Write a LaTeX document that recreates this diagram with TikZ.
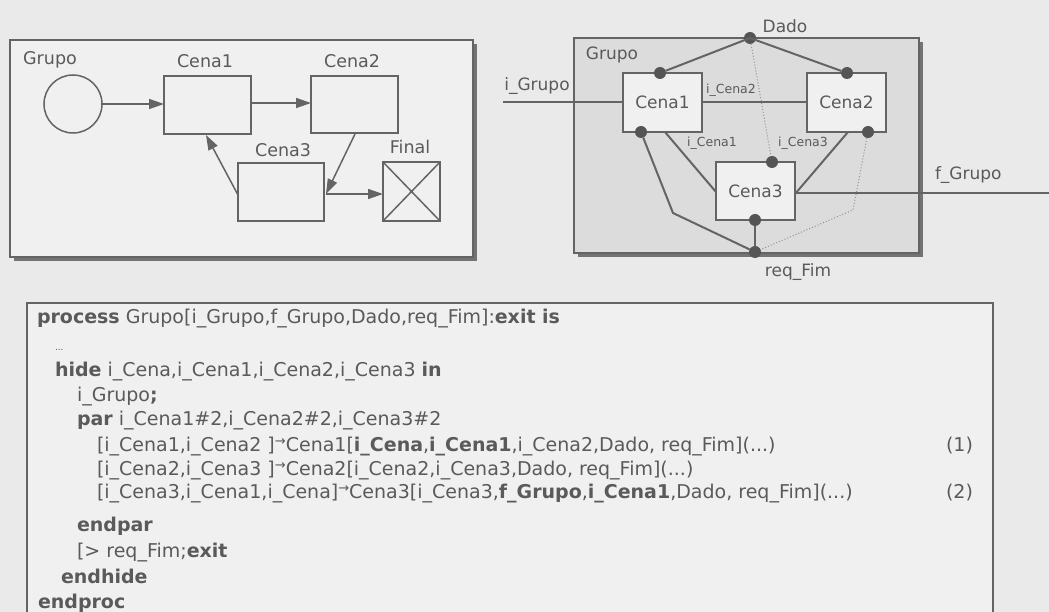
\documentclass[tikz,border=0pt]{standalone}
\usepackage{fontspec}
\setmainfont{DejaVu Sans}
\usetikzlibrary{arrows.meta}
\definecolor{pagebg}{RGB}{234,234,234}
\definecolor{boxbg}{RGB}{240,240,240}
\definecolor{grpbg}{RGB}{220,220,220}
\definecolor{ln}{RGB}{100,100,100}
\definecolor{txt}{RGB}{90,90,90}
\definecolor{shd}{RGB}{115,115,115}
\begin{document}
\begin{tikzpicture}[x=1pt,y=-1pt,
  every node/.style={text=txt,inner sep=0pt,outer sep=0pt},
  lbl/.style={font=\fontsize{17.5}{20}\selectfont},
  rlbl/.style={font=\fontsize{17}{20}\selectfont},
  slbl/.style={font=\fontsize{12.5}{14}\selectfont},
  code/.style={anchor=base west,font=\fontsize{19}{22}\selectfont},
  plain/.style={draw=ln,line width=1.5pt},
  scene/.style={draw=ln,line width=1.5pt,fill=boxbg},
  arr/.style={draw=ln,line width=1.5pt,-{Triangle[length=15pt,width=10pt]}},
  conn/.style={draw=ln,line width=2pt},
  dotl/.style={draw=ln!70,line width=1pt,dotted},
  gate/.style={circle,fill=ln!85!black,minimum size=12pt}
]
\useasboundingbox (0,0) rectangle (1049,612);
\fill[pagebg] (0,0) rectangle (1049,612);

% ---------- left diagram ----------
\fill[shd] (14,44) rectangle (477,261);
\draw[plain,fill=boxbg] (10,40) rectangle (473,257);
\node[lbl] (lg) at (50,60) {Grupo};
\node[circle,draw=ln,line width=1.5pt,minimum size=58pt] (st) at (73,104) {};
\node[scene,minimum width=87pt,minimum height=58pt] (c1) at (207.5,105) {};
\node[scene,minimum width=87pt,minimum height=57pt] (c2) at (354.5,104.5) {};
\node[scene,minimum width=86pt,minimum height=58pt] (c3) at (281,192) {};
\node[draw=ln,line width=1.5pt,fill=boxbg,minimum width=57pt,minimum height=59pt] (fi) at (411.5,191.5) {};
\draw[ln,line width=1.5pt] (fi.north west) -- (fi.south east) (fi.north east) -- (fi.south west);
\node[lbl] at (205,61) {Cena1};
\node[lbl] at (352,61) {Cena2};
\node[lbl] at (283,150) {Cena3};
\node[lbl] at (410,147) {Final};
\draw[arr] (st.east) -- (c1.west |- st.east);
\draw[arr] (c1.east |- 0,103) -- (c2.west |- 0,103);
\coordinate (c2b) at (355,134);
\coordinate (c3r) at (326,194);
\draw[arr] (c2b) -- (c3r);
\draw[arr] (c3r) -- (fi.west |- c3r);
\coordinate (c3l) at (238,195);
\coordinate (c1b) at (206,135);
\draw[arr] (c3l) -- (c1b);

% ---------- right diagram ----------
\fill[shd] (578,42) rectangle (923,257);
\draw[ln,line width=1.5pt,fill=grpbg] (574,38) rectangle (919,253);
\node[rlbl] at (612,55) {Grupo};
\node[scene,minimum width=79pt,minimum height=59pt] (r1) at (662.5,102.5) {};
\node[scene,minimum width=79pt,minimum height=59pt] (r2) at (846.5,102.5) {};
\node[scene,minimum width=79pt,minimum height=58pt] (r3) at (755.5,191) {};
\node[rlbl] at (r1) {Cena1};
\node[rlbl] at (r2) {Cena2};
\node[rlbl] at (r3) {Cena3};

\coordinate (ig) at (503,102);
\draw[conn,line width=1.5pt] (ig) -- (r1.west |- ig);
\node[rlbl] at (537,86) {i\_Grupo};
\draw[conn,line width=1.5pt] (r1.east |- ig) -- (r2.west |- ig);
\node[slbl] at (731,90) {i\_Cena2};
\coordinate (fg) at (1049,193);
\draw[conn,line width=1.5pt] (r3.east |- fg) -- (fg);
\node[rlbl,anchor=west] at (935,175) {f\_Grupo};

\node[gate] (dado) at (750,38) {};
\node[gate] (r1t) at (660,73) {};
\node[gate] (r2t) at (847,73) {};
\node[gate] (r1b) at (641,132) {};
\node[gate] (r2b) at (868,132) {};
\node[gate] (r3t) at (772,162) {};
\node[gate] (r3b) at (755,220) {};
\node[gate] (fim) at (755,252) {};
\node[rlbl] at (785,26) {Dado};
\node[rlbl] at (798,272) {req\_Fim};

\draw[conn] (r1t) -- (dado.center) -- (r2t);
\draw[dotl] (dado) -- (r3t);
\draw[conn] (665,132) -- (r3.west |- 0,192);
\node[slbl] at (712,143) {i\_Cena1};
\draw[conn] (848,132) -- (r3.east |- 0,194);
\node[slbl] at (803,143) {i\_Cena3};
\coordinate (bl) at (673,213);
\coordinate (br) at (853,210);
\draw[conn] (r1b) -- (bl) -- (fim);
\draw[dotl] (r2b) -- (br) -- (fim);
\draw[conn] (r3b) -- (fim);

% ---------- code box ----------
\draw[ln,line width=1.2pt,fill=boxbg] (27,303) rectangle (993,640);
\newcommand{\sarr}{\raisebox{0.5ex}{\fontsize{13}{14}\selectfont →}}
\node[code] at (37,323) {\textbf{process} Grupo[i\_Grupo,f\_Grupo,Dado,req\_Fim]:\textbf{exit is}};
\node[code,font=\fontsize{9}{10}\selectfont] at (55,350) {...};
\node[code] at (55,376) {\textbf{hide} i\_Cena,i\_Cena1,i\_Cena2,i\_Cena3 \textbf{in}};
\node[code] at (77,401) {i\_Grupo\textbf{;}};
\node[code] at (77,425) {\textbf{par} i\_Cena1\#2,i\_Cena2\#2,i\_Cena3\#2};
\node[code] at (97,451) {[i\_Cena1,i\_Cena2 ]\sarr Cena1[\textbf{i\_Cena},\textbf{i\_Cena1},i\_Cena2,Dado, req\_Fim](...)};
\node[code] at (97,475) {[i\_Cena2,i\_Cena3 ]\sarr Cena2[i\_Cena2,i\_Cena3,Dado, req\_Fim](...)};
\node[code] at (97,498) {[i\_Cena3,i\_Cena1,i\_Cena]\sarr Cena3[i\_Cena3,\textbf{f\_Grupo},\textbf{i\_Cena1},Dado, req\_Fim](...)};
\node[code] at (946,451) {(1)};
\node[code] at (946,498) {(2)};
\node[code] at (77,531) {\textbf{endpar}};
\node[code] at (77,557) {[> req\_Fim;\textbf{exit}};
\node[code] at (61,583) {\textbf{endhide}};
\node[code] at (38,608) {\textbf{endproc}};
\end{tikzpicture}
\end{document}
